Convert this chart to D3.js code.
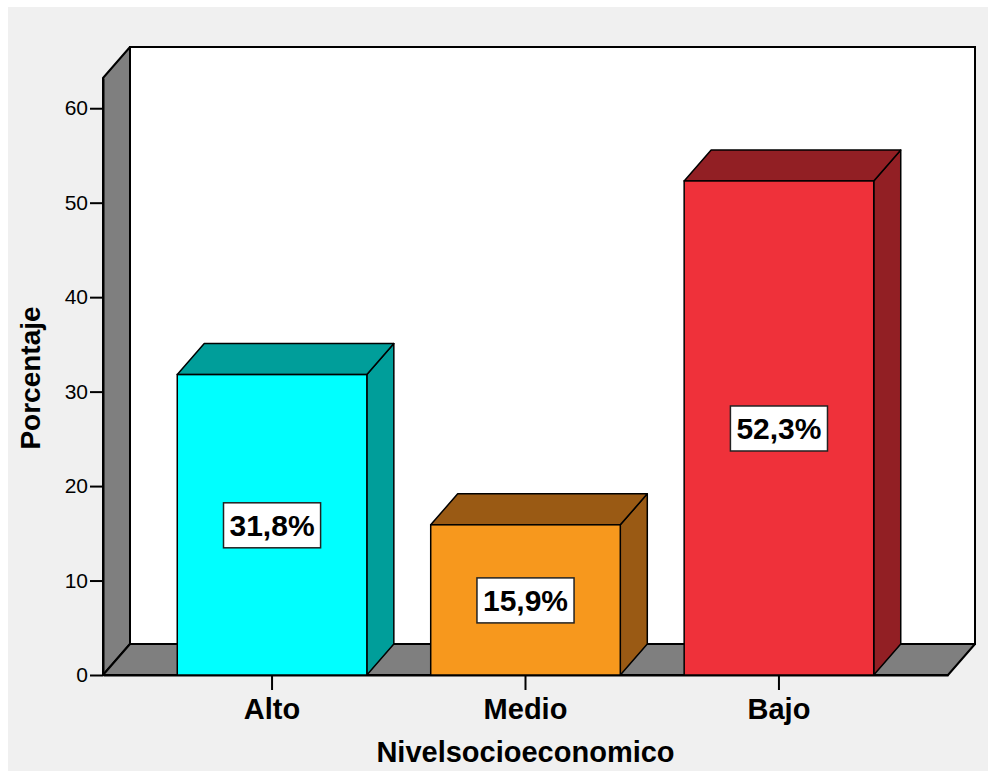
<!DOCTYPE html>
<html>
<head>
<meta charset="utf-8">
<script src="https://cdn.jsdelivr.net/npm/d3@7"></script>
<style>
  html, body { margin: 0; padding: 0; background: #fff; }
  svg { display: block; }
  text { font-family: "Liberation Sans", Arial, sans-serif; }
</style>
</head>
<body>
<div id="chart"></div>
<script>
const categories = ['Alto', 'Medio', 'Bajo'];
const values     = [31.8, 15.9, 52.3];
const yTicks     = [0, 10, 20, 30, 40, 50, 60];
const frontColors = ['#00ffff', '#f7981d', '#ef313a'];
const sideColors  = ['#009e9a', '#9a5a14', '#921f24'];

const W = 990, H = 771;
const depth = { dx: 27, dy: 31 };
const plot = { left: 103, right: 948, top: 78, bottom: 675 };

const svg = d3.select('#chart').append('svg')
  .attr('width', W).attr('height', H);

// panel background
svg.append('rect')
  .attr('x', 8).attr('y', 7)
  .attr('width', 980).attr('height', H - 7)
  .attr('fill', '#f0f0f0');

const x = d3.scaleBand()
  .domain(categories)
  .range([plot.left, plot.right])
  .paddingInner(0.252)
  .paddingOuter(0.293);

const y = d3.scaleLinear()
  .domain([0, 63.2])
  .range([plot.bottom, plot.top]);

const line = d3.line();
const { dx, dy } = depth;

// back wall
svg.append('rect')
  .attr('x', plot.left + dx).attr('y', plot.top - dy)
  .attr('width', plot.right - plot.left).attr('height', plot.bottom - plot.top)
  .attr('fill', '#fff').attr('stroke', '#000').attr('stroke-width', 2);

// left wall
svg.append('path')
  .attr('d', line([[plot.left, plot.top], [plot.left + dx, plot.top - dy],
                   [plot.left + dx, plot.bottom - dy], [plot.left, plot.bottom]]) + 'Z')
  .attr('fill', '#7f7f7f').attr('stroke', '#000').attr('stroke-width', 2)
  .attr('stroke-linejoin', 'round');

// floor
svg.append('path')
  .attr('d', line([[plot.left, plot.bottom], [plot.left + dx, plot.bottom - dy],
                   [plot.right + dx, plot.bottom - dy], [plot.right, plot.bottom]]) + 'Z')
  .attr('fill', '#7f7f7f').attr('stroke', '#000').attr('stroke-width', 2)
  .attr('stroke-linejoin', 'round');

// Y axis
const yAxis = svg.append('g')
  .attr('transform', `translate(${plot.left},0)`)
  .call(d3.axisLeft(y).tickValues(yTicks).tickSize(13).tickPadding(2).tickSizeOuter(0));
yAxis.select('.domain').attr('stroke-width', 2);
yAxis.selectAll('.tick line').attr('stroke-width', 2);
yAxis.selectAll('.tick text')
  .attr('font-size', 21).attr('fill', '#000')
  .style('font-family', '"Liberation Sans", Arial, sans-serif');

// X axis
const xAxis = svg.append('g')
  .attr('transform', `translate(0,${plot.bottom})`)
  .call(d3.axisBottom(x).tickSize(15).tickPadding(8).tickSizeOuter(0));
xAxis.select('.domain').attr('stroke-width', 2);
xAxis.selectAll('.tick line').attr('stroke-width', 2);
xAxis.selectAll('.tick text')
  .attr('font-size', 29).attr('font-weight', 'bold').attr('fill', '#000')
  .style('font-family', '"Liberation Sans", Arial, sans-serif');

const data = categories.map((c, i) => ({ cat: c, value: values[i], i }));

// Bars
const bars = svg.selectAll('.bar')
  .data(data)
  .enter().append('g')
    .attr('class', 'bar');

bars.append('path') // side
  .attr('d', d => {
    const x1 = x(d.cat) + x.bandwidth(), yv = y(d.value);
    return line([[x1, yv], [x1 + dx, yv - dy], [x1 + dx, plot.bottom - dy], [x1, plot.bottom]]) + 'Z';
  })
  .attr('fill', d => sideColors[d.i]).attr('stroke', '#000').attr('stroke-width', 1.5)
  .attr('stroke-linejoin', 'round');

bars.append('path') // top
  .attr('d', d => {
    const x0 = x(d.cat), x1 = x0 + x.bandwidth(), yv = y(d.value);
    return line([[x0, yv], [x0 + dx, yv - dy], [x1 + dx, yv - dy], [x1, yv]]) + 'Z';
  })
  .attr('fill', d => sideColors[d.i]).attr('stroke', '#000').attr('stroke-width', 1.5)
  .attr('stroke-linejoin', 'round');

bars.append('rect') // front
  .attr('x', d => x(d.cat))
  .attr('y', d => y(d.value))
  .attr('width', x.bandwidth())
  .attr('height', d => plot.bottom - y(d.value))
  .attr('fill', d => frontColors[d.i]).attr('stroke', '#000').attr('stroke-width', 1.5);

// value labels
const fmt = d3.formatLocale({ decimal: ',', thousands: '.', grouping: [3], currency: ['', '€'] }).format('.1f');

bars.each(function (d) {
  const g = d3.select(this);
  const cx = x(d.cat) + x.bandwidth() / 2;
  const cy = (y(d.value) + plot.bottom) / 2;
  const t = g.append('text')
    .attr('x', cx).attr('y', cy)
    .attr('text-anchor', 'middle').attr('dy', '0.36em')
    .attr('font-size', 30).attr('font-weight', 'bold')
    .text(fmt(d.value) + '%');
  const bb = t.node().getBBox();
  g.insert('rect', 'text')
    .attr('x', cx - bb.width / 2 - 6).attr('y', cy - 22)
    .attr('width', bb.width + 12).attr('height', 45)
    .attr('fill', '#fff').attr('stroke', '#222').attr('stroke-width', 1.5);
});

// axis titles
svg.append('text')
  .attr('transform', 'translate(40,378) rotate(-90)')
  .attr('text-anchor', 'middle')
  .attr('font-size', 28).attr('font-weight', 'bold')
  .text('Porcentaje');

svg.append('text')
  .attr('x', x('Medio') + x.bandwidth() / 2).attr('y', 762)
  .attr('text-anchor', 'middle')
  .attr('font-size', 29).attr('font-weight', 'bold')
  .text('Nivelsocioeconomico');
</script>
</body>
</html>
